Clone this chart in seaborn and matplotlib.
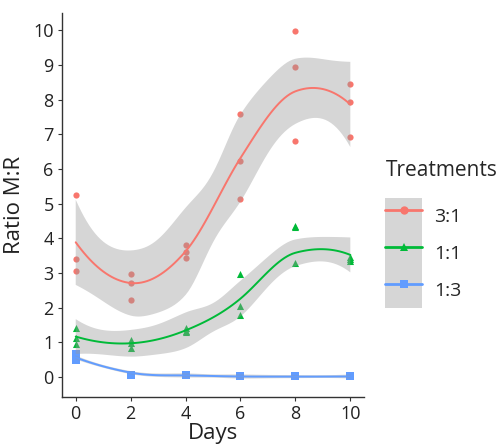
import numpy as np
import pandas as pd
import matplotlib
matplotlib.use("Agg")
import matplotlib.pyplot as plt
import seaborn as sns
from matplotlib.lines import Line2D
from matplotlib.patches import Rectangle
from matplotlib.legend_handler import HandlerTuple

days = [0, 0, 0, 2, 2, 2, 4, 4, 4, 6, 6, 6, 8, 8, 8, 10, 10, 10]
ratio_31 = [5.25, 3.40, 3.05, 2.97, 2.72, 2.22, 3.81, 3.61, 3.44,
            7.57, 6.24, 5.13, 9.99, 8.95, 6.81, 8.45, 7.92, 6.93]
ratio_11 = [1.42, 1.13, 0.94, 1.07, 0.99, 0.83, 1.40, 1.33, 1.29,
            2.96, 2.03, 1.78, 4.35, 4.31, 3.29, 3.47, 3.41, 3.35]
ratio_13 = [0.65, 0.59, 0.49, 0.06, 0.05, 0.05, 0.04, 0.04, 0.04,
            0.01, 0.01, 0.01, 0.01, 0.01, 0.01, 0.01, 0.01, 0.01]
treatments = ["3:1", "1:1", "1:3"]
colors = ["#F8766D", "#00BA38", "#619CFF"]
markers = ["o", "^", "s"]
x_ticks = [0, 2, 4, 6, 8, 10]
y_ticks = list(range(0, 11))

df = pd.DataFrame({
    "Days": days * 3,
    "Ratio": ratio_31 + ratio_11 + ratio_13,
    "Treatment": [t for t in treatments for _ in days],
})


def local_rows(x, x0, span=0.75):
    """Local quadratic (loess) operator rows for value and slope at x0."""
    n = len(x)
    q = int(np.floor(span * n))
    d = np.abs(x - x0)
    h = np.sort(d)[q - 1]
    u = np.clip(d / h, 0, 1)
    w = (1 - u ** 3) ** 3
    X = np.column_stack([np.ones(n), x - x0, (x - x0) ** 2])
    W = np.diag(w)
    B = np.linalg.pinv(X.T @ W @ X) @ X.T @ W
    return B[0], B[1]


def loess_operator(x, pts):
    """Operator at pts, Hermite-interpolated between vertices (like R's surface='interpolate')."""
    verts = np.unique(x)
    V = np.array([local_rows(x, v)[0] for v in verts])
    S = np.array([local_rows(x, v)[1] for v in verts])
    L = np.zeros((len(pts), len(x)))
    for i, p in enumerate(pts):
        k = np.searchsorted(verts, p, side="right") - 1
        k = min(max(k, 0), len(verts) - 2)
        a, b = verts[k], verts[k + 1]
        hh = b - a
        t = (p - a) / hh
        h00 = 2 * t ** 3 - 3 * t ** 2 + 1
        h10 = t ** 3 - 2 * t ** 2 + t
        h01 = -2 * t ** 3 + 3 * t ** 2
        h11 = t ** 3 - t ** 2
        L[i] = h00 * V[k] + h10 * hh * S[k] + h01 * V[k + 1] + h11 * hh * S[k + 1]
    return L


def t975(df_):
    z = 1.959964
    g1 = (z ** 3 + z) / 4
    g2 = (5 * z ** 5 + 16 * z ** 3 + 3 * z) / 96
    return z + g1 / df_ + g2 / df_ ** 2


def loess_smooth(x, y, grid):
    x = np.asarray(x, float)
    y = np.asarray(y, float)
    Lg = loess_operator(x, grid)
    Ls = loess_operator(x, x)
    fit = Lg @ y
    R = np.eye(len(x)) - Ls
    M = R.T @ R
    d1 = np.trace(M)
    d2 = np.trace(M @ M)
    sigma = np.sqrt(np.sum((R @ y) ** 2) / d1)
    se = sigma * np.sqrt(np.sum(Lg ** 2, axis=1))
    tq = t975(d1 ** 2 / d2)
    return fit, fit - tq * se, fit + tq * se


sns.set_theme(style="white")
plt.rcParams["font.family"] = ["Open Sans", "DejaVu Sans"]

fig = plt.figure(figsize=(4.96, 4.44), dpi=100)
ax = fig.add_axes([0.125, 0.106, 0.609, 0.865])

msizes = [20, 26, 30]
grid = np.linspace(0, 10, 101)
for t, c, m, ms in zip(treatments, colors, markers, msizes):
    sub = df[df["Treatment"] == t]
    sns.scatterplot(data=sub, x="Days", y="Ratio", ax=ax, color=c, marker=m,
                    s=ms, linewidth=0, zorder=2, legend=False)
    fit, lo, hi = loess_smooth(sub["Days"], sub["Ratio"], grid)
    ax.fill_between(grid, lo, hi, facecolor="#999999", alpha=0.4,
                    edgecolor="none", zorder=3)
    sns.lineplot(x=grid, y=fit, ax=ax, color=c, lw=1.4, zorder=4,
                 legend=False)

ax.set_xlim(-0.5, 10.5)
ax.set_ylim(-0.58, 10.5)
ax.set_xticks(x_ticks)
ax.set_yticks(y_ticks)
ax.tick_params(axis="both", labelsize=13, length=3, width=0.8,
               color="#333333", labelcolor="#222222", direction="out",
               bottom=True, left=True, pad=3)
ax.set_xlabel("Days", fontsize=16, color="#222222", labelpad=0)
ax.set_ylabel("Ratio M:R", fontsize=16, color="#222222", labelpad=6)
for s in ["top", "right"]:
    ax.spines[s].set_visible(False)
for s in ["left", "bottom"]:
    ax.spines[s].set_color("#333333")
    ax.spines[s].set_linewidth(1.0)

handles = []
for c, m in zip(colors, markers):
    bg = Rectangle((0, 0), 1, 1, facecolor="#D6D6D6", edgecolor="none")
    ln = Line2D([], [], color=c, lw=2, marker=m, markersize=6, markeredgewidth=0)
    handles.append((bg, ln))

leg = fig.legend(handles, treatments, title="Treatments",
                 handler_map={tuple: HandlerTuple(ndivide=1, pad=0)},
                 loc="upper left", bbox_to_anchor=(0.777, 0.640),
                 frameon=False, fontsize=14, title_fontsize=15,
                 handlelength=1.9, handleheight=2.55, labelspacing=0,
                 handletextpad=0.6, borderaxespad=0, borderpad=0)
leg._legend_box.align = "left"
leg._legend_box.sep = 12

fig.savefig("out.png", dpi=100)
